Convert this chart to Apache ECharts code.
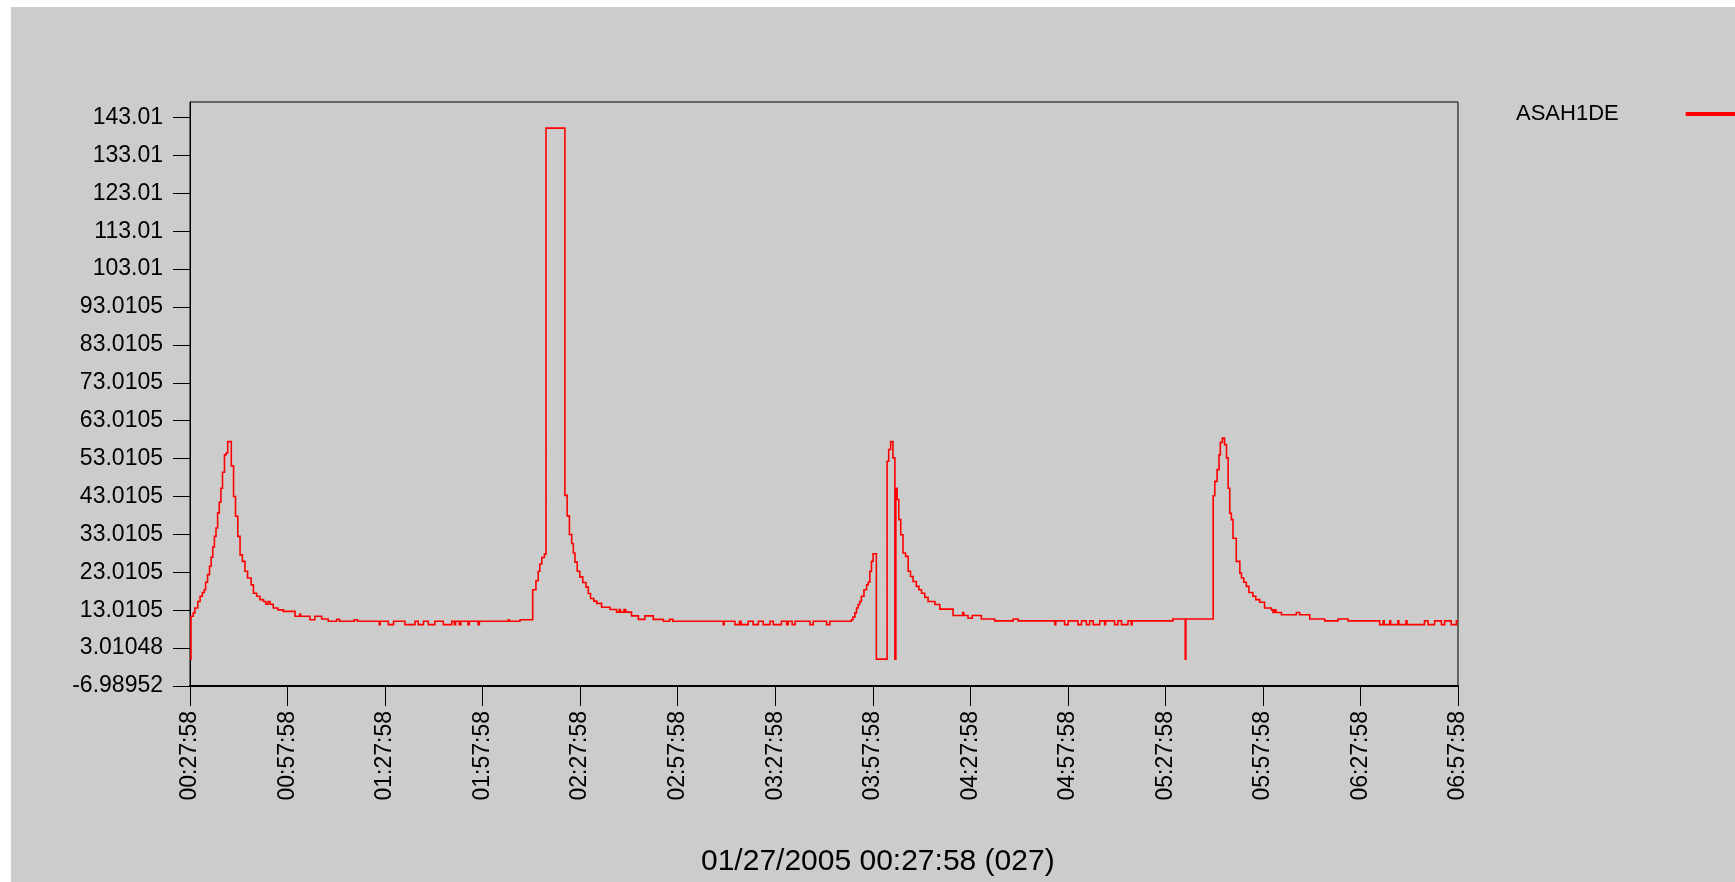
<!DOCTYPE html>
<html>
<head>
<meta charset="utf-8">
<script src="https://cdn.jsdelivr.net/npm/echarts@6/dist/echarts.min.js"></script>
<style>
  html, body { margin: 0; padding: 0; background: #fff; }
  .main { width: 1735px; height: 882px; }
</style>
</head>
<body>
<div class="main"></div>
<script>
// minutes after 00:27:58, value held until next sample
var minutes = [
  0, 0.3, 1.0, 1.5, 2.4, 3.1, 3.8, 4.4, 4.8, 5.4, 6.0, 6.5, 7.0, 7.5, 8.0, 8.5, 9.0, 9.5, 10.0, 10.6, 11.1, 11.6,
  12.7, 13.4, 14.0, 14.7, 15.4, 16.1, 16.9, 17.7, 18.8, 19.5, 20.5, 21.5, 22.6, 23.3, 24.0, 24.6, 25.6, 27.0, 28.7,
  32.3, 33.8, 34.0, 36.9, 38.4, 40.5, 42.5, 45.1, 46.0, 50.5, 51.5,
  58.2, 58.5, 61.0, 62.6, 66.1, 69.2, 70.2, 71.8, 73.3, 75.3, 77.9, 80.5, 81.3, 81.7, 82.8, 83.3, 85.5, 85.9, 88.6, 89.0,
  97.9, 98.2, 101.5,
  105.4, 106.4, 107.1, 107.6, 108.2, 109.0, 109.5,
  115.3, 116.0, 116.7, 117.4, 117.9, 118.4, 119.1, 119.9, 120.8, 121.8, 122.5, 123.2, 124.2, 125.1, 126.6,
  129.2, 131.2, 132.0, 132.4, 133.5, 134.0, 135.8, 137.9, 139.9, 142.5, 145.6, 147.5, 148.5,
  164.0, 164.3, 167.6, 169.0, 169.5, 171.7, 173.2, 174.8, 176.3, 178.4, 179.4, 181.9, 183.5, 184.0, 185.2, 186.1,
  190.7, 191.7, 195.8, 196.8,
  203.4, 203.9, 204.5, 205.0, 205.5, 206.0, 206.5, 207.3, 208.1, 208.6, 209.1, 209.6, 210.1, 211.1,
  214.4, 214.9, 215.5, 216.2, 216.8, 217.1, 217.5, 218.0, 218.6, 219.3, 220.1, 220.9, 221.6, 222.4, 223.4, 224.2,
  225.0, 226.0, 227.0, 229.1, 230.6, 234.7, 237.7, 238.0, 239.3, 240.6, 243.4, 247.5, 253.2, 254.7,
  266.0, 266.3, 269.0, 270.1, 273.1, 274.2, 275.7, 276.7, 277.8, 279.8, 281.3, 281.6, 284.4, 285.4, 286.5, 288.5,
  289.5, 289.8,
  302.3, 306.1, 306.3,
  314.7, 315.2, 315.9, 316.5, 316.9, 317.5, 318.2, 318.8, 319.3, 319.8, 320.3, 320.8, 321.8, 322.9, 323.4, 324.1,
  324.9, 325.7, 326.9, 327.8, 329.0, 330.5, 332.6, 333.1, 333.5, 334.0, 335.7, 340.3, 341.3, 344.4, 349.0,
  353.1, 356.2,
  365.9, 367.0, 367.3, 369.0, 369.3, 371.5, 371.8, 374.0, 374.3, 377.2, 379.7, 380.8, 382.8, 384.9, 385.9,
  387.9, 389.5, 390
];
var values = [
  0.0, 11.4, 12.3, 13.6, 15.3, 16.7, 17.7, 18.4, 20.4, 22.4, 24.6, 27.0, 29.7, 32.5, 34.7, 38.7, 41.5, 45.2, 49.4, 54.0, 54.5, 57.5,
  51.1, 43.0, 37.8, 32.5, 27.6, 25.9, 23.3, 21.5, 19.7, 17.5, 16.7, 15.8, 15.3, 14.6, 15.3, 14.6, 13.6, 13.1, 12.7,
  11.4, 12.0, 11.4, 10.5, 11.4, 10.7, 10.1, 10.6, 10.1, 10.5, 10.1,
  9.2, 10.1, 9.2, 10.1, 9.2, 10.1, 9.2, 10.1, 9.2, 10.1, 9.2, 10.1, 9.2, 10.1, 9.2, 10.1, 9.2, 10.1, 9.2, 10.1,
  10.5, 10.1, 10.5,
  18.4, 20.8, 23.3, 25.2, 26.9, 27.8, 140.2,
  43.3, 37.9, 33.0, 30.6, 28.1, 25.7, 23.3, 21.8, 20.3, 19.1, 17.4, 16.1, 15.4, 14.8, 13.8,
  13.2, 12.5, 13.2, 12.5, 13.2, 12.5, 11.5, 10.6, 11.5, 10.6, 10.1, 10.6, 10.1,
  9.2, 10.1, 9.2, 10.1, 9.2, 10.1, 9.2, 10.1, 9.2, 10.1, 9.2, 10.1, 9.2, 10.1, 9.2, 10.1,
  9.2, 10.1, 9.2, 10.1,
  10.5, 11.2, 12.3, 13.6, 14.5, 15.3, 16.7, 18.4, 19.7, 20.4, 23.3, 25.9, 27.9, 0.1,
  52.3, 55.4, 57.5, 53.2, 0.1, 45.2, 42.2, 36.9, 32.9, 28.1, 27.2, 23.3, 21.9, 20.6, 19.3, 18.4,
  17.5, 16.4, 15.3, 14.5, 13.3, 11.6, 12.4, 11.6, 10.9, 11.6, 10.7, 10.2, 10.7, 10.2,
  9.2, 10.2, 9.2, 10.2, 9.2, 10.2, 9.2, 10.2, 9.2, 10.2, 9.2, 10.2, 9.2, 10.2, 9.2, 10.2,
  9.2, 10.2,
  10.7, 0.1, 10.7,
  43.2, 47.0, 50.1, 54.0, 57.3, 58.4, 56.7, 53.2, 45.2, 38.6, 36.9, 32.0, 25.9, 22.8, 21.5, 20.4,
  19.3, 17.7, 16.7, 15.8, 15.1, 13.6, 13.1, 12.4, 13.1, 12.4, 11.8, 12.4, 11.8, 10.7, 10.2,
  10.7, 10.2,
  9.2, 10.2, 9.2, 10.2, 9.2, 10.2, 9.2, 10.2, 9.2, 9.2, 10.2, 9.2, 10.2, 9.2, 10.2,
  9.2, 10.2, 10.2
];

var xTicks = [0, 30, 60, 90, 120, 150, 180, 210, 240, 270, 300, 330, 360, 390];
var xTickLabels = ['00:27:58', '00:57:58', '01:27:58', '01:57:58', '02:27:58', '02:57:58', '03:27:58',
  '03:57:58', '04:27:58', '04:57:58', '05:27:58', '05:57:58', '06:27:58', '06:57:58'];
var yTicks = [-6.98952, 3.01048, 13.01048, 23.01048, 33.01048, 43.01048, 53.01048, 63.01048,
  73.01048, 83.01048, 93.01048, 103.01048, 113.01048, 123.01048, 133.01048, 143.01048];
var yTickLabels = ['-6.98952', '3.01048', '13.0105', '23.0105', '33.0105', '43.0105', '53.0105', '63.0105',
  '73.0105', '83.0105', '93.0105', '103.01', '113.01', '123.01', '133.01', '143.01'];

var seriesName = 'ASAH1DE';
var footer = '01/27/2005 00:27:58 (027)';

// sample-and-hold: keep each value flat until the next sample time
var stepCoords = [];
for (var i = 0; i < minutes.length; i++) {
  if (i > 0) stepCoords.push([minutes[i], values[i - 1]]);
  stepCoords.push([minutes[i], values[i]]);
}

var font = "'Liberation Sans', Arial, sans-serif";
var myChart = echarts.init(document.querySelector('.main'));

var option = {
  animation: false,
  backgroundColor: '#ffffff',
  textStyle: { fontFamily: font },
  graphic: [{
    type: 'rect',
    z: -10,
    silent: true,
    shape: { x: 11, y: 7, width: 1724, height: 875 },
    style: { fill: '#cccccc' }
  }],
  title: {
    text: footer,
    left: 701,
    top: 847,
    padding: 0,
    textStyle: { fontFamily: font, fontSize: 30, fontWeight: 'normal', color: '#000' }
  },
  legend: {
    data: [seriesName],
    left: 1511,
    top: 98,
    align: 'right',
    icon: 'rect',
    itemWidth: 50,
    itemHeight: 2,
    itemStyle: { color: '#ff0000' },
    textStyle: { fontFamily: font, fontSize: 22, color: '#000', padding: [0, 63, 0, 0] }
  },
  grid: {
    left: 190,
    top: 102,
    width: 1268,
    height: 584,
    show: true,
    borderColor: '#000',
    borderWidth: 1,
    backgroundColor: 'transparent'
  },
  xAxis: {
    type: 'value',
    min: 0,
    max: 390,
    axisLine: { onZero: false, lineStyle: { color: '#000', width: 2 } },
    axisTick: { length: 20, lineStyle: { color: '#000' }, customValues: xTicks },
    splitLine: { show: false },
    axisLabel: {
      customValues: xTicks,
      rotate: 90,
      margin: 25,
      fontSize: 23,
      fontFamily: font,
      color: '#000',
      formatter: function (v) { return xTickLabels[xTicks.indexOf(v)]; }
    }
  },
  yAxis: {
    type: 'value',
    min: -6.98952,
    max: 147.1,
    axisLine: { show: true, lineStyle: { color: '#000', width: 1 } },
    axisTick: { show: true, length: 17, lineStyle: { color: '#000' }, customValues: yTicks },
    splitLine: { show: false },
    axisLabel: {
      customValues: yTicks,
      margin: 27,
      fontSize: 23,
      fontFamily: font,
      color: '#000',
      formatter: function (v) { return yTickLabels[yTicks.indexOf(v)]; }
    }
  },
  series: [{
    name: seriesName,
    type: 'lines',
    coordinateSystem: 'cartesian2d',
    polyline: true,
    color: '#ff0000',
    lineStyle: { color: '#ff0000', width: 1.6, opacity: 1 },
    data: [{ coords: stepCoords }]
  }]
};
myChart.setOption(option);
</script>
</body>
</html>
